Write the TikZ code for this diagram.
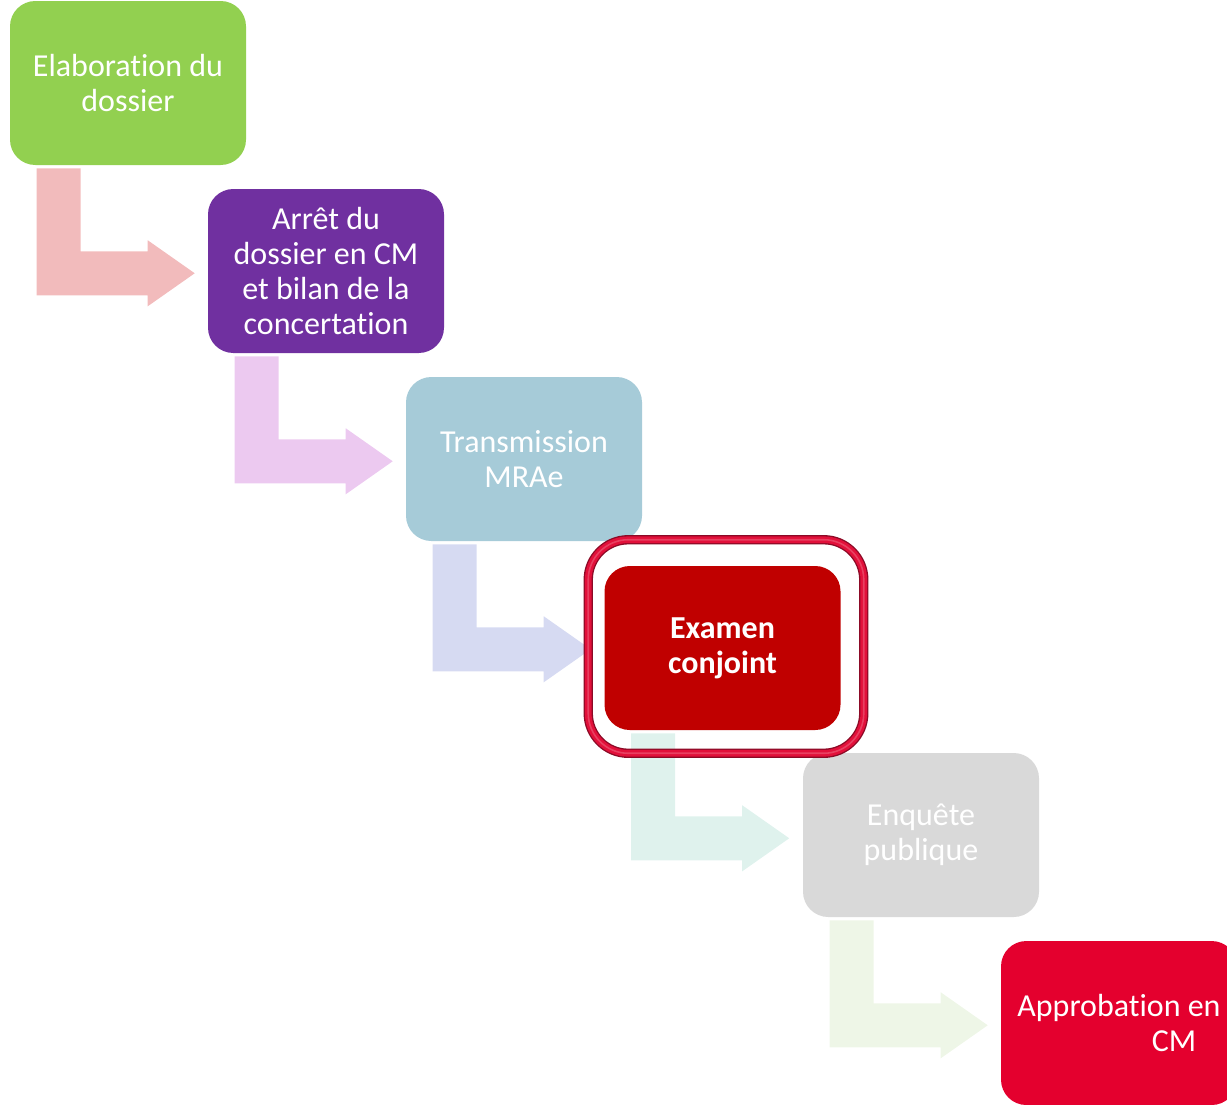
\documentclass[tikz,border=0pt]{standalone}
\usepackage{fontspec}
\setmainfont{Carlito}[Ligatures=NoCommon]
\usetikzlibrary{calc}
\usetikzlibrary{scopes}

\definecolor{stepgreen}{RGB}{146,208,80}
\definecolor{steppurple}{RGB}{112,48,160}
\definecolor{stepblue}{RGB}{166,203,216}
\definecolor{stepred}{RGB}{192,0,0}
\definecolor{stepgray}{RGB}{217,217,217}
\definecolor{stepcrimson}{RGB}{228,0,46}
\definecolor{framedark}{RGB}{140,10,38}
\definecolor{framered}{RGB}{226,16,58}
\definecolor{arrowA}{RGB}{242,187,188}
\definecolor{arrowB}{RGB}{236,201,240}
\definecolor{arrowC}{RGB}{214,218,242}
\definecolor{arrowD}{RGB}{223,242,237}
\definecolor{arrowE}{RGB}{238,246,231}

\begin{document}
\begin{tikzpicture}[
    x=0.75pt, y=-0.75pt,
    stepbox/.style={rectangle,rounded corners=19pt,minimum width=177pt,minimum height=123pt,
        inner sep=0pt,align=center,text=white,font=\fontsize{24}{26.3}\selectfont},
    highlight/.style={rounded corners=30pt},
]
    \useasboundingbox (0,0) rectangle (1227,1104);
    \clip (0,0) rectangle (1227,1104);

    % Steps of the procedure
    \node[stepbox,fill=stepgreen] (elab) at (128,83) {Elaboration du\\dossier};
    \node[stepbox,fill=steppurple] (arret) at (326,271) {Arrêt du\\dossier en CM\\et bilan de la\\concertation};
    \node[stepbox,fill=stepblue] (mrae) at (524,459) {Transmission\\MRAe};
    \node[stepbox,fill=stepred,font=\fontsize{24}{26.3}\selectfont\bfseries] (examen) at (722.5,648) {Examen\\conjoint};
    \node[stepbox,fill=stepgray] (enquete) at (921,835) {Enquête\\publique};
    \node[stepbox,fill=stepcrimson,align=left] (approb) at (1119,1023) {Approbation en\\\hspace*{4.2em}CM};

    % Bent arrows between the steps
    \foreach \a/\b/\col in {elab/arret/arrowA,arret/mrae/arrowB,mrae/examen/arrowC,
                            examen/enquete/arrowD,enquete/approb/arrowE}
        \fill[\col] ($(\a.south west)+(27,3)$) -- ++(44,0) -- ++(0,83) -- ++(67,0)
            -- ++(0,-11) -- ++(47,33) -- ++(-47,33) -- ++(0,-11) -- ++(-111,0) -- cycle;

    % Frame round the current step
    \draw[highlight,framedark,line width=7pt] ($(examen.north west)+(-16,-26)$) rectangle ($(examen.south east)+(23,23)$);
    \draw[highlight,framered,line width=5pt] ($(examen.north west)+(-16,-26)$) rectangle ($(examen.south east)+(23,23)$);
    \draw[highlight,framered!80!white,line width=1.2pt] ($(examen.north west)+(-16,-26)$) rectangle ($(examen.south east)+(23,23)$);
\end{tikzpicture}
\end{document}
